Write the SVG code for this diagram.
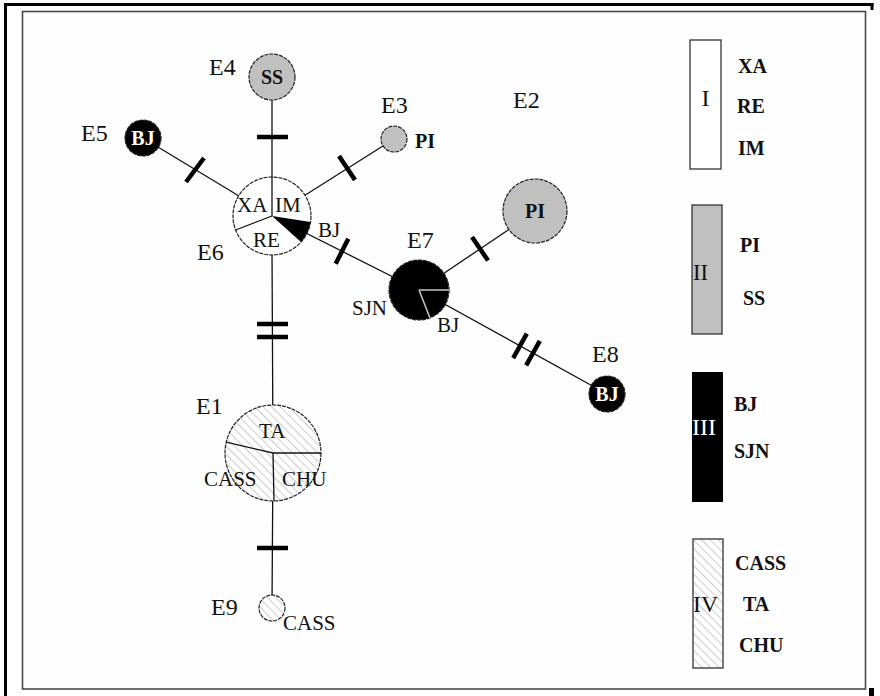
<svg xmlns="http://www.w3.org/2000/svg" width="880" height="696" viewBox="0 0 880 696">
<defs>
<pattern id="hatch" width="6" height="6" patternUnits="userSpaceOnUse" patternTransform="rotate(-45)">
<rect width="6" height="6" fill="#fff"/>
<line x1="0" y1="0" x2="0" y2="6" stroke="#9a9a9a" stroke-width="1"/>
</pattern>
<style>
.t{font-family:"Liberation Serif","Times New Roman",serif;fill:#111}
.e{font-size:24px}
.s{font-size:21px}
.b{font-size:20px;font-weight:bold}
.w{fill:#fff}
.node{stroke:#222;stroke-width:1.2;stroke-dasharray:4 1}
.conn{stroke:#111;stroke-width:1.3;fill:none}
.tick{stroke:#000;stroke-width:4.5}
.div{stroke:#111;stroke-width:1.3}
</style>
</defs>
<rect width="880" height="696" fill="#fff"/>
<g id="frame">
<line x1="4" y1="4.5" x2="873.5" y2="4.5" stroke="#000" stroke-width="3"/>
<line x1="5.5" y1="3" x2="5.5" y2="696" stroke="#000" stroke-width="3"/>
<line x1="872" y1="3" x2="872" y2="10" stroke="#000" stroke-width="3"/>
<rect x="869" y="688" width="5" height="8" fill="#000"/>
<rect x="22.5" y="11.5" width="843" height="677.5" fill="#fefefe" stroke="#4a4a4a" stroke-width="1.6"/>
</g>
<g id="connectors">
<line class="conn" x1="272" y1="100" x2="272" y2="216"/>
<line class="conn" x1="143" y1="138" x2="238.6" y2="195.8"/>
<line class="conn" x1="394" y1="139" x2="305" y2="195.2"/>
<line class="conn" x1="272" y1="216" x2="419" y2="290"/>
<line class="conn" x1="272" y1="250" x2="273" y2="453"/>
<line class="conn" x1="419" y1="290" x2="535" y2="212"/>
<line class="conn" x1="419" y1="290" x2="607" y2="394"/>
<line class="conn" x1="273" y1="453" x2="272" y2="608"/>
<line class="tick" x1="257" y1="137" x2="288" y2="137"/>
<line class="tick" x1="186" y1="182" x2="204" y2="158"/>
<line class="tick" x1="355" y1="180" x2="339" y2="156"/>
<line class="tick" x1="335.7" y1="263.7" x2="348.3" y2="238.7"/>
<line class="tick" x1="488" y1="260.5" x2="472" y2="237"/>
<line class="tick" x1="513.2" y1="358.1" x2="526.8" y2="333.6"/>
<line class="tick" x1="526.2" y1="365.3" x2="539.8" y2="340.8"/>
<line class="tick" x1="257" y1="324" x2="288" y2="324"/>
<line class="tick" x1="257" y1="337" x2="288" y2="337"/>
<line class="tick" x1="257" y1="548" x2="288" y2="548"/>
</g>
<g id="E4">
<circle class="node" cx="272" cy="77" r="23" fill="#c0c0c0"/>
<text class="t b" x="272" y="84" text-anchor="middle">SS</text>
<text class="t e" x="209" y="75">E4</text>
</g>
<g id="E5">
<circle class="node" cx="143" cy="138" r="18" fill="#000"/>
<text class="t b w" x="143" y="145" text-anchor="middle">BJ</text>
<text class="t e" x="81" y="141">E5</text>
</g>
<g id="E3">
<circle class="node" cx="394" cy="139" r="13" fill="#c0c0c0"/>
<text class="t b" x="415" y="148">PI</text>
<text class="t e" x="381" y="113">E3</text>
</g>
<g id="E2">
<circle class="node" cx="535" cy="211" r="32" fill="#c0c0c0"/>
<text class="t b" x="535" y="218" text-anchor="middle">PI</text>
<text class="t e" x="513" y="108">E2</text>
</g>
<g id="E6">
<circle class="node" cx="272" cy="216" r="39" fill="#fff"/>
<path d="M272,216 L310.5,222.1 A39,39 0 0 1 301,242.1 Z" fill="#000"/>
<line class="div" x1="272" y1="177" x2="272" y2="216"/>
<line class="div" x1="272" y1="216" x2="235.6" y2="230"/>
<text class="t s" x="237" y="212">XA</text>
<text class="t s" x="275" y="212">IM</text>
<text class="t s" x="253" y="247">RE</text>
<text class="t s" x="318" y="237">BJ</text>
<text class="t e" x="197" y="260">E6</text>
</g>
<g id="E7">
<circle class="node" cx="419" cy="290" r="30" fill="#000"/>
<line x1="419" y1="290" x2="449" y2="290" stroke="#c8c8c8" stroke-width="1.5"/>
<line x1="419" y1="290" x2="430" y2="318" stroke="#c8c8c8" stroke-width="1.5"/>
<text class="t s" x="352" y="315">SJN</text>
<text class="t s" x="437" y="332">BJ</text>
<text class="t e" x="407" y="248">E7</text>
</g>
<g id="E8">
<circle class="node" cx="607" cy="394" r="18" fill="#000"/>
<text class="t b w" x="607" y="401" text-anchor="middle">BJ</text>
<text class="t e" x="592" y="362">E8</text>
</g>
<g id="E1">
<circle class="node" cx="273" cy="453" r="48" fill="url(#hatch)"/>
<line class="div" x1="273" y1="453" x2="321" y2="453"/>
<line class="div" x1="273" y1="453" x2="226.2" y2="442.2"/>
<line class="div" x1="273" y1="453" x2="274" y2="501"/>
<text class="t s" x="259" y="438">TA</text>
<text class="t s" x="204" y="486">CASS</text>
<text class="t s" x="282" y="486">CHU</text>
<text class="t e" x="196" y="414">E1</text>
</g>
<g id="E9">
<circle class="node" cx="272" cy="608" r="13" fill="url(#hatch)"/>
<text class="t s" x="283" y="630">CASS</text>
<text class="t e" x="211" y="615">E9</text>
</g>
<g id="legend-I">
<rect x="690" y="40" width="31" height="129" fill="#fff" stroke="#333" stroke-width="1.3"/>
<text class="t e" x="705.5" y="106" text-anchor="middle">I</text>
<text class="t b" x="738" y="73">XA</text>
<text class="t b" x="737" y="113">RE</text>
<text class="t b" x="738" y="155">IM</text>
</g>
<g id="legend-II">
<rect x="692" y="205" width="30" height="129" fill="#c0c0c0" stroke="#333" stroke-width="1.3"/>
<text class="t e" x="693" y="280" textLength="15" lengthAdjust="spacingAndGlyphs">II</text>
<text class="t b" x="740" y="252">PI</text>
<text class="t b" x="743" y="305">SS</text>
</g>
<g id="legend-III">
<rect x="692" y="372" width="31" height="130" fill="#000"/>
<text class="t e w" x="692" y="435" textLength="24" lengthAdjust="spacingAndGlyphs">III</text>
<text class="t b" x="734" y="411">BJ</text>
<text class="t b" x="734" y="458">SJN</text>
</g>
<g id="legend-IV">
<rect x="693" y="539" width="30" height="129" fill="url(#hatch)" stroke="#333" stroke-width="1.3"/>
<text class="t e" x="693" y="612" textLength="25" lengthAdjust="spacingAndGlyphs">IV</text>
<text class="t b" x="735" y="570">CASS</text>
<text class="t b" x="743" y="611">TA</text>
<text class="t b" x="739" y="652">CHU</text>
</g>
</svg>
